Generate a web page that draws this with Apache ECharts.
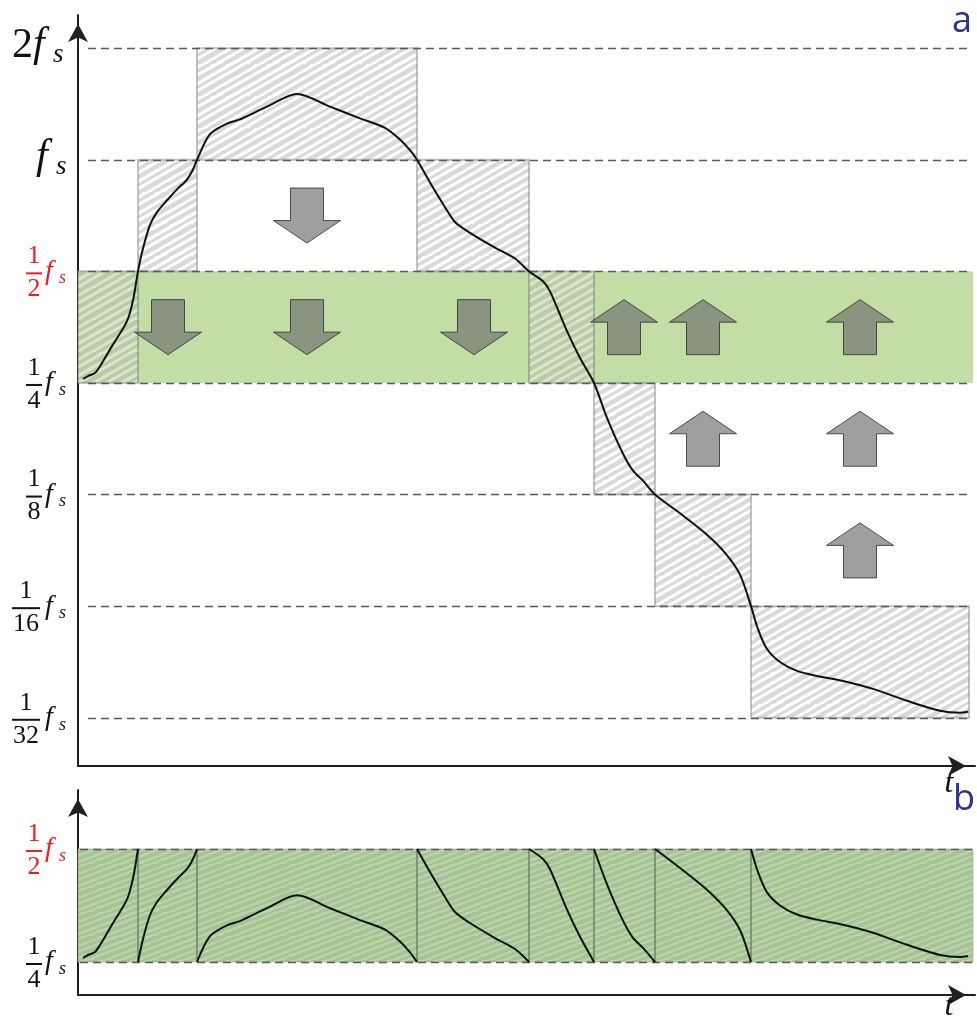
<!DOCTYPE html>
<html lang="en">
<head>
<meta charset="UTF-8" />
<title>Octave folding</title>
<script src="https://cdn.jsdelivr.net/npm/echarts@6/dist/echarts.min.js"></script>
<style>
    html, body { margin: 0; padding: 0; background: #fff; }
    #chart { width: 977px; height: 1019px; }
</style>
</head>
<body>
<div id="chart"></div>
<script>
// y values are octaves relative to fs (log2 f/fs); t is in arbitrary time units
const segEdges = [0, 60, 119, 339, 451, 516, 577, 673, 891];
const segLow = [-2, -1, 0, -1, -2, -3, -4, -5];
const levels = [1, 0, -1, -2, -3, -4, -5];
const levelNum = ['2', '', '1', '1', '1', '1', '1'];
const levelDen = ['', '', '2', '4', '8', '16', '32'];
const bandLevels = [-1, -2];
const bandNum = ['1', '1'];
const bandDen = ['2', '4'];

const curveT = [5, 10, 17, 22, 34, 49, 55, 60,
    65, 72, 79, 89, 99, 109, 115, 119,
    132, 149, 162, 189, 219, 252, 282, 307, 322, 332, 339,
    352, 367, 377, 392, 417, 437, 451,
    465, 472, 489, 502, 516,
    529, 545, 555, 565, 577,
    602, 627, 647, 662, 673,
    680, 689, 702, 719, 739, 765, 795, 829, 862, 882, 890];
const curveV = [-1.964, -1.938, -1.911, -1.85, -1.67, -1.446, -1.26, -1,
    -0.796, -0.584, -0.469, -0.363, -0.265, -0.177, -0.088, 0,
    0.229, 0.324, 0.362, 0.476, 0.59, 0.476, 0.371, 0.286, 0.181, 0.086, 0,
    -0.204, -0.425, -0.558, -0.655, -0.788, -0.885, -1,
    -1.089, -1.179, -1.536, -1.777, -2,
    -2.3125, -2.634, -2.786, -2.875, -3,
    -3.168, -3.345, -3.522, -3.717, -4,
    -4.205, -4.384, -4.5, -4.58, -4.625, -4.67, -4.741, -4.848, -4.9375, -4.955, -4.946];

// block arrows: [t, octave, direction (1 up, -1 down)]
const arrows = [
    [229, -0.5, -1], [90, -1.5, -1], [229, -1.5, -1], [396, -1.5, -1],
    [546, -1.5, 1], [625, -1.5, 1], [782, -1.5, 1],
    [625, -2.5, 1], [782, -2.5, 1], [782, -3.5, 1]
];

const RED = '#ed1c24';
const SERIF = 'Liberation Serif';

//scribbled hatch tile used as a repeating fill
function makeHatch(w, h, step, base, stroke, widths) {
    const c = document.createElement('canvas');
    c.width = w;
    c.height = h;
    const ctx = c.getContext('2d');
    ctx.fillStyle = base;
    ctx.fillRect(0, 0, w, h);
    ctx.strokeStyle = stroke;
    ctx.lineCap = 'round';
    const n = w / step;
    for (let k = -n; k < 2 * n; k++) {
        ctx.lineWidth = widths[((k % widths.length) + widths.length) % widths.length];
        ctx.beginPath();
        ctx.moveTo(k * step, h);
        ctx.lineTo(k * step + w, 0);
        ctx.stroke();
    }
    return { image: c, repeat: 'repeat' };
}

const grayHatch = makeHatch(56, 32, 14, 'rgba(255,255,255,0.33)', 'rgba(100,100,100,0.24)', [4.2, 3, 4.8, 3.6]);
const greenHatch = makeHatch(64, 24, 16, '#bad6aa', '#a7c396', [3.8, 2.8, 4.4, 3.2]);

const rectData = segLow.map((lo, i) => [segEdges[i], segEdges[i + 1], lo, lo + 1]);
const curveData = curveT.map((t, i) => [t, curveV[i]]);

//fold every segment into the [1/4, 1/2] band
const foldedData = [];
segLow.forEach((lo, i) => {
    const shift = -2 - lo;
    curveT.forEach((t, k) => {
        if (t >= segEdges[i] && t <= segEdges[i + 1]) foldedData.push([t, curveV[k] + shift]);
    });
    foldedData.push([segEdges[i + 1], '-']);
});

function rectItem(fill, stroke, lw) {
    return function (params, api) {
        const p0 = api.coord([api.value(0), api.value(3)]);
        const p1 = api.coord([api.value(1), api.value(2)]);
        return {
            type: 'rect',
            shape: { x: p0[0], y: p0[1], width: p1[0] - p0[0], height: p1[1] - p0[1] },
            style: { fill: fill, stroke: stroke, lineWidth: lw }
        };
    };
}

const axisLine = {
    onZero: false,
    symbol: ['none', 'arrow'],
    symbolSize: [15, 18],
    symbolOffset: [0, -9],
    lineStyle: { color: '#231f20', width: 2 }
};
const hidden = { axisTick: { show: false }, axisLabel: { show: false }, splitLine: { show: false } };

const dashStyle = { type: [8, 5], color: '#5a5a5a', width: 1.3 };

const option = {
    animation: false,
    grid: [
        { left: 78, top: 15, width: 897, height: 751, containLabel: false, outerBoundsMode: 'none' },
        { left: 78, top: 790, width: 897, height: 205, containLabel: false, outerBoundsMode: 'none' }
    ],
    xAxis: [
        Object.assign({ type: 'value', gridIndex: 0, min: 0, max: 897, axisLine: axisLine }, hidden),
        Object.assign({ type: 'value', gridIndex: 1, min: 0, max: 897, axisLine: axisLine }, hidden)
    ],
    yAxis: [
        Object.assign({ type: 'value', gridIndex: 0, min: -5.432, max: 1.297, axisLine: axisLine }, hidden),
        Object.assign({ type: 'value', gridIndex: 1, min: -2.292, max: -0.478, axisLine: axisLine }, hidden)
    ],
    series: [
        {
            // green target band, panel a
            type: 'custom', xAxisIndex: 0, yAxisIndex: 0, z: 1, silent: true,
            data: [[0, 895, -2, -1]],
            renderItem: rectItem('#c2dea5', 'none', 0)
        },
        {
            type: 'custom', xAxisIndex: 0, yAxisIndex: 0, z: 2, silent: true,
            data: rectData,
            renderItem: rectItem(grayHatch, 'rgba(100,100,100,0.38)', 2)
        },
        {
            type: 'custom', xAxisIndex: 0, yAxisIndex: 0, z: 3, silent: true,
            data: arrows,
            renderItem: function (params, api) {
                const c = api.coord([api.value(0), api.value(1)]);
                const d = -api.value(2);
                const x = c[0], y = c[1];
                const pts = [
                    [x - 16.5, y - 27.5 * d], [x + 16.5, y - 27.5 * d], [x + 16.5, y + 5 * d],
                    [x + 33.5, y + 5 * d], [x, y + 27.5 * d], [x - 33.5, y + 5 * d], [x - 16.5, y + 5 * d]
                ];
                return {
                    type: 'polygon',
                    shape: { points: pts },
                    style: { fill: 'rgba(110,110,110,0.66)', stroke: 'rgba(50,50,50,0.85)', lineWidth: 1 }
                };
            }
        },
        {
            type: 'line', xAxisIndex: 0, yAxisIndex: 0, z: 5, silent: true,
            data: curveData,
            showSymbol: false, symbol: 'none',
            smooth: 0.3,
            lineStyle: { color: '#111', width: 2 },
            markLine: {
                silent: true, symbol: 'none', label: { show: false },
                lineStyle: dashStyle,
                data: levels.map(v => [{ coord: [10, v] }, { coord: [892, v] }])
            }
        },
        {
            // folded band, panel b
            type: 'custom', xAxisIndex: 1, yAxisIndex: 1, z: 1, silent: true,
            data: [[0, 895, -2, -1]],
            renderItem: rectItem(greenHatch, 'rgba(150,150,150,0.5)', 1)
        },
        {
            type: 'custom', xAxisIndex: 1, yAxisIndex: 1, z: 3, silent: true,
            data: segEdges.slice(1, -1).map(t => [t]),
            renderItem: function (params, api) {
                const p0 = api.coord([api.value(0), -1]);
                const p1 = api.coord([api.value(0), -2]);
                return {
                    type: 'line',
                    shape: { x1: p0[0], y1: p0[1], x2: p1[0], y2: p1[1] },
                    style: { stroke: '#73866b', lineWidth: 1.6 }
                };
            }
        },
        {
            type: 'line', xAxisIndex: 1, yAxisIndex: 1, z: 5, silent: true,
            data: foldedData,
            showSymbol: false, symbol: 'none',
            smooth: 0.3,
            connectNulls: false,
            lineStyle: { color: '#111', width: 2 },
            markLine: {
                silent: true, symbol: 'none', label: { show: false },
                lineStyle: dashStyle,
                data: bandLevels.map(v => [{ coord: [2, v] }, { coord: [895, v] }])
            }
        }
    ]
};

const chart = echarts.init(document.getElementById('chart'));
chart.setOption(option);

function txt(text, x, y, size, italic, family, color, align) {
    return {
        type: 'text', x: x, y: y, silent: true, z: 10,
        style: {
            text: text, fontSize: size, fontFamily: family,
            fontStyle: italic ? 'italic' : 'normal', fill: color,
            align: align, textAlign: align,
            verticalAlign: 'middle', textVerticalAlign: 'middle'
        }
    };
}

function levelLabel(y0, num, den, color) {
    const els = [];
    if (!den) {
        if (num) els.push(txt(num, 33, y0 - 2, 42, false, SERIF, color, 'right'));
        const fx = num ? 33 : 36;
        els.push(txt('f', fx, y0 - 3, 42, true, SERIF, color, 'left'));
        els.push(txt('s', fx + 20, y0 + 7, 27, true, SERIF, color, 'left'));
    } else {
        const w = den.length > 1 ? 28 : 16;
        const cx = den.length > 1 ? 26 : 34;
        els.push(txt(num, cx, y0 - 15, 26, false, SERIF, color, 'center'));
        els.push({ type: 'rect', silent: true, z: 10, shape: { x: cx - w / 2, y: y0 + 1, width: w, height: 2 }, style: { fill: color } });
        els.push(txt(den, cx, y0 + 18, 26, false, SERIF, color, 'center'));
        els.push(txt('f', 45, y0, 28, true, SERIF, color, 'left'));
        els.push(txt('s', 59, y0 + 7, 18, true, SERIF, color, 'left'));
    }
    return els;
}

const graphics = [];
levels.forEach((v, i) => {
    const y0 = chart.convertToPixel({ yAxisIndex: 0 }, v);
    graphics.push(...levelLabel(y0, levelNum[i], levelDen[i], v === -1 ? RED : '#111'));
});
bandLevels.forEach((v, i) => {
    const y0 = chart.convertToPixel({ yAxisIndex: 1 }, v);
    graphics.push(...levelLabel(y0, bandNum[i], bandDen[i], v === -1 ? RED : '#111'));
});

const axA = chart.convertToPixel({ gridIndex: 0 }, [897, -5.432]);
const axB = chart.convertToPixel({ gridIndex: 1 }, [897, -2.292]);
graphics.push(txt('t', axA[0] - 26, axA[1] + 18, 32, true, SERIF, '#111', 'center'));
graphics.push(txt('t', axB[0] - 26, axB[1] + 12, 32, true, SERIF, '#111', 'center'));
graphics.push(txt('a', 962, 22, 36, false, 'Open Sans', '#2e3192', 'center'));
graphics.push(txt('b', 964, 800, 36, false, 'Open Sans', '#2e3192', 'center'));

chart.setOption({ graphic: graphics });
</script>
</body>
</html>
